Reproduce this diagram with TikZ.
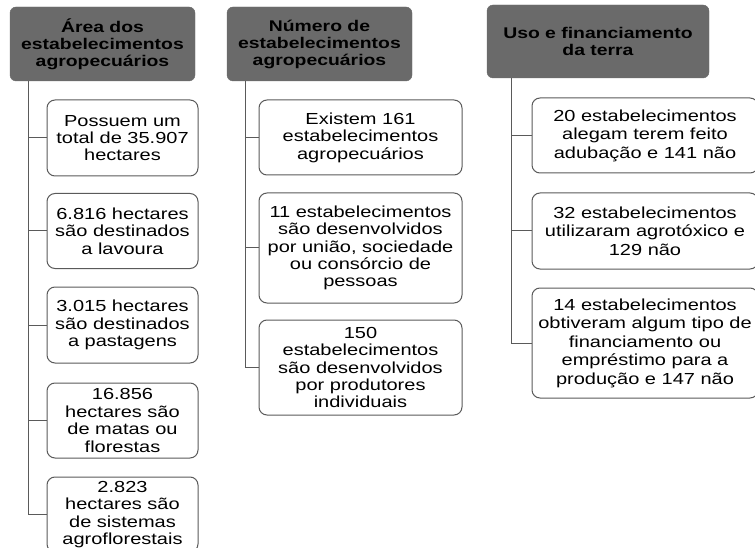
\documentclass[tikz,border=0pt]{standalone}
\usepackage{fontspec}
\setmainfont[FakeStretch=1.25]{Liberation Sans}
\usetikzlibrary{positioning}
\definecolor{hdgray}{HTML}{6A6A6A}
\definecolor{edgegray}{HTML}{5A5A5A}
\tikzset{
  hdbox/.style={fill=hdgray, draw=hdgray, rounded corners=6pt, align=center,
    inner sep=0pt, text=black, font=\fontsize{15.5}{17}\selectfont\bfseries},
  infobox/.style={draw=edgegray, line width=1pt, fill=white, rounded corners=8pt,
    align=center, inner sep=0pt, font=\fontsize{16}{17.4}\selectfont},
  widebox/.style={infobox, font=\fontsize{16}{18.5}\selectfont},
  link/.style={draw=edgegray, line width=1pt}
}
\begin{document}
\begin{tikzpicture}[x=1pt,y=-1pt]
    \useasboundingbox (0,0) rectangle (755,548);
    \clip (0,0) rectangle (755,548);
    % area
    \node[hdbox, minimum width=185pt, minimum height=74pt] (h1) at (102.5,44) {Área dos\\estabelecimentos\\agropecuários};
    \node[infobox, minimum width=151pt, minimum height=76pt] (a1) at (122.5,138) {Possuem um\\total de 35.907\\hectares};
    \node[infobox, minimum width=151pt, minimum height=75pt] (a2) at (122.5,231) {6.816 hectares\\são destinados\\a lavoura};
    \node[infobox, minimum width=151pt, minimum height=76pt] (a3) at (122.5,325) {3.015 hectares\\são destinados\\a pastagens};
    \node[infobox, minimum width=151pt, minimum height=75pt] (a4) at (122.5,420.5) {16.856\\hectares são\\de matas ou\\florestas};
    \node[infobox, minimum width=151pt, minimum height=75pt] (a5) at (122.5,514.5) {2.823\\hectares são\\de sistemas\\agroflorestais};
    \coordinate (t1) at (28,81);
    \draw[link] (t1) |- (a5.west);
    \foreach \b in {a1,a2,a3,a4}
        \draw[link] (t1 |- \b.west) -- (\b.west);
    % numero
    \node[hdbox, minimum width=185pt, minimum height=74pt] (h2) at (319.5,44) {Número de\\estabelecimentos\\agropecuários};
    \node[infobox, minimum width=203pt, minimum height=75pt] (n1) at (360.5,137.5) {Existem 161\\estabelecimentos\\agropecuários};
    \node[infobox, minimum width=203pt, minimum height=110pt] (n2) at (360.5,248) {11 estabelecimentos\\são desenvolvidos\\por união, sociedade\\ou consórcio de\\pessoas};
    \node[infobox, minimum width=203pt, minimum height=95pt] (n3) at (360.5,367.5) {150\\estabelecimentos\\são desenvolvidos\\por produtores\\individuais};
    \coordinate (t2) at (245,81);
    \draw[link] (t2) |- (n3.west);
    \foreach \b in {n1,n2}
        \draw[link] (t2 |- \b.west) -- (\b.west);
    % uso
    \node[hdbox, minimum width=222pt, minimum height=73pt] (h3) at (598,41.5) {Uso e financiamento\\da terra};
    \node[widebox, minimum width=226pt, minimum height=75pt] (u1) at (645,135.5) {20 estabelecimentos\\alegam terem feito\\adubação e 141 não};
    \node[widebox, minimum width=226pt, minimum height=76pt] (u2) at (645,231) {32 estabelecimentos\\utilizaram agrotóxico e\\129 não};
    \node[widebox, minimum width=226pt, minimum height=110pt] (u3) at (645,343) {14 estabelecimentos\\obtiveram algum tipo de\\financiamento ou\\empréstimo para a\\produção e 147 não};
    \coordinate (t3) at (511,78);
    \draw[link] (t3) |- (u3.west);
    \foreach \b in {u1,u2}
        \draw[link] (t3 |- \b.west) -- (\b.west);
\end{tikzpicture}
\end{document}
